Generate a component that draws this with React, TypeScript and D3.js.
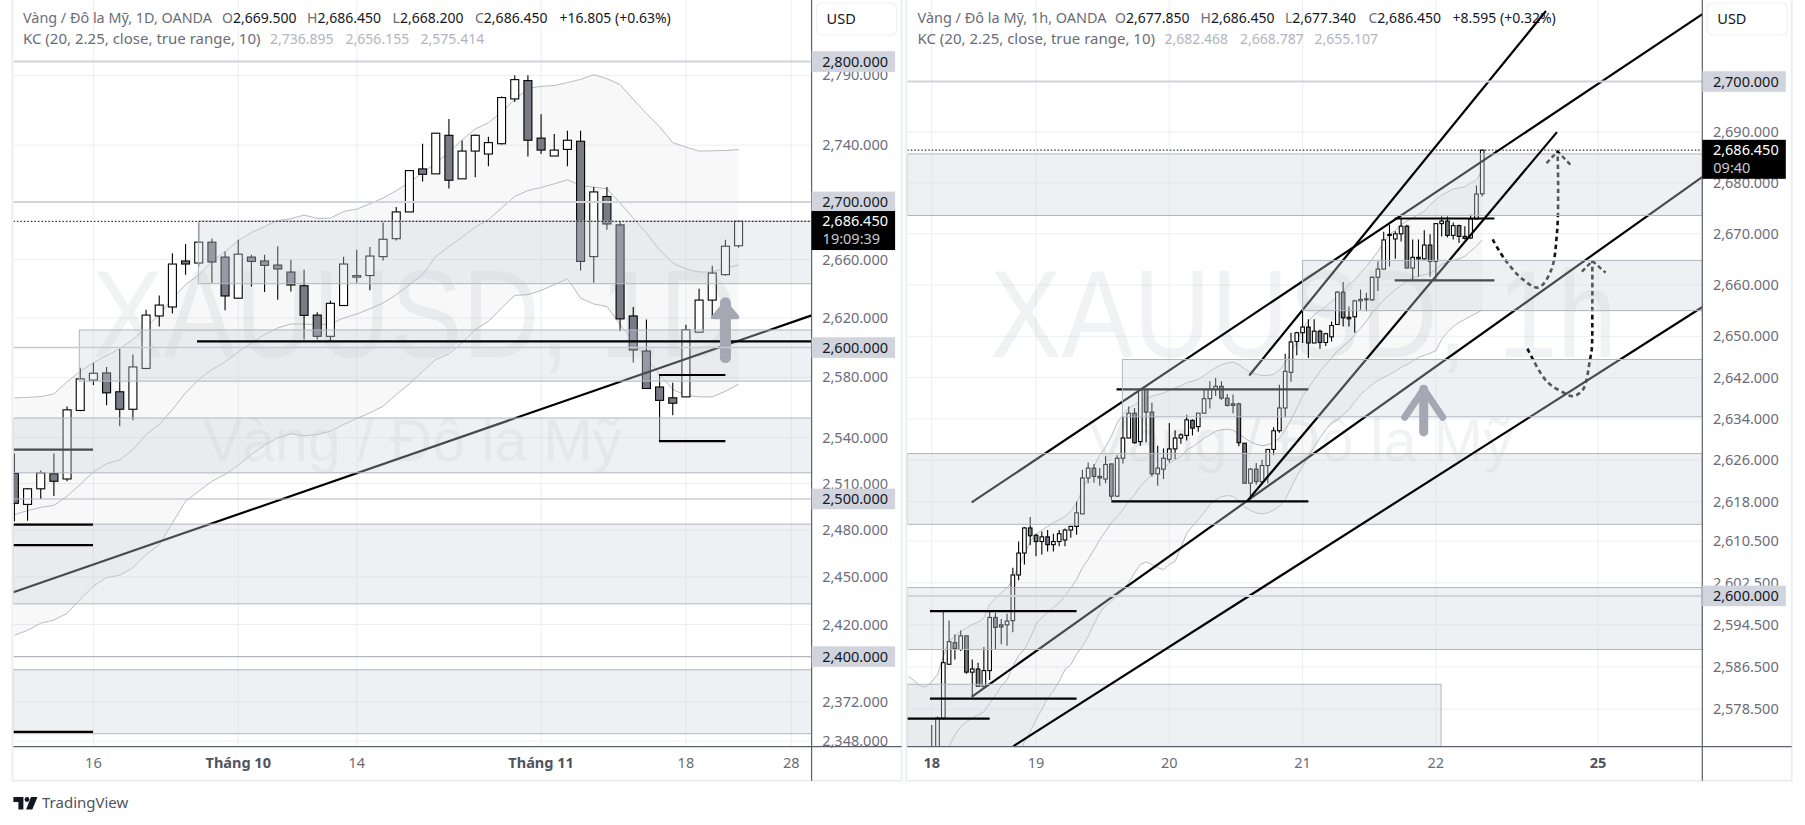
import React from "react";
import * as d3 from "d3";

// ---------- DAILY PANEL DATA ----------
const dailyOHLC = [
[2516.6,2529.6,2485.5,2497.2],[2496.5,2507.2,2486,2506.6],[2506.6,2518.5,2500,2517],[2516.4,2529.6,2502,2511.5],
[2513,2560.6,2511.5,2558.4],[2558,2586.4,2557.5,2579],[2578.2,2589.7,2575,2582.8],[2583,2587,2561.4,2569.7],
[2570.4,2599,2547.6,2558.8],[2558.8,2595.3,2551.5,2587],[2586,2625.6,2585.4,2622],[2621.4,2635.4,2614.3,2628.8],
[2627.5,2664.4,2623,2656.9],[2659,2670.7,2649.6,2656.9],[2657.6,2685.7,2655,2672],[2672,2674.5,2644,2658.3],
[2661.7,2665.5,2625.2,2635],[2633.5,2673.6,2633.5,2663.7],[2661.7,2663.3,2641.5,2658.7],[2659,2663.3,2637.7,2656],
[2656.2,2669.2,2632.4,2653.5],[2651.4,2659.8,2638,2642.5],[2642,2653,2605.4,2621.8],[2622,2624,2605.4,2607.6],
[2607.6,2631.7,2604,2630],[2628.5,2662,2628.5,2656.9],[2647.9,2666.7,2644,2648.9],[2649,2668.6,2638.9,2662.4],
[2662,2685.7,2659.4,2674],[2674.4,2696.4,2673.2,2693],[2693,2722.5,2693,2722],[2723.2,2741,2714.3,2719.4],
[2719.7,2748.5,2719.7,2748.5],[2747,2758.6,2709.4,2715.2],[2716.2,2743.3,2716.2,2735.8],[2735.8,2747.5,2717.3,2747],
[2733.7,2745.9,2725,2741.8],[2741,2774.7,2740.4,2774],[2773,2790,2770.8,2786.9],[2786.2,2790,2732,2743.5],
[2745,2762,2733.7,2736.5],[2732.3,2748,2732.3,2736.5],[2737,2750.2,2725,2743.5],[2742.8,2750.2,2652.5,2658.7],
[2662,2710.4,2644,2707],[2703.8,2710.4,2680.6,2684.6],[2684,2686.2,2611,2619.4],[2621.4,2627.5,2590,2598.4],
[2597.7,2619,2572.6,2572.6],[2573.6,2581.9,2538,2564.7],[2566.4,2576.4,2554.8,2562.8],[2567,2615.5,2567,2612],
[2610.4,2640,2610.4,2632.2],[2632.2,2655.7,2619.4,2650.7],[2649.6,2673.6,2648.9,2669.2],[2669.5,2686.45,2668.2,2686.45],
];
const dailyUpper = [2566.3,2566.7,2567.2,2569,2577,2584,2590,2594.6,2599.3,2605.4,2613.7,2622.3,2633.1,2642.7,2649.5,2658.7,2665.5,2673.1,2678.7,2682.9,2687,2688.3,2690.8,2688.5,2688.7,2693.3,2695,2698.7,2702.7,2707.8,2713.8,2720.4,2727.4,2734.8,2743.7,2751.5,2756,2763.7,2772.5,2780.5,2782.1,2782.6,2784.8,2787.1,2790.5,2787.6,2783.3,2772.7,2762.6,2753.1,2741.8,2738.6,2735.8,2736,2736.2,2736.9];
const dailyMiddle = [2489.9,2492.5,2494.6,2495.9,2501.8,2509.4,2517.7,2522.9,2525.5,2532.2,2542.1,2548.7,2558.6,2569.7,2578.6,2585.2,2590.4,2597.1,2603.1,2608.7,2613.3,2615.9,2615.9,2615.5,2615.9,2620,2622.7,2626.3,2630.2,2635.9,2642.7,2649.5,2662.1,2668.9,2675.5,2682.5,2687.6,2695.7,2703.8,2708,2710.1,2712.7,2715.5,2711.5,2710.4,2709.2,2699.2,2688.7,2678.3,2666.7,2657.6,2653.5,2651.4,2651.4,2654.2,2656.2];
const dailyLower = [2413.2,2416.4,2420.8,2422.8,2427,2435.8,2444.2,2449.5,2451.1,2455.8,2464.2,2470.5,2484.5,2498.5,2505,2511.5,2515.9,2522,2529,2535,2539.9,2542.6,2541.2,2542.1,2544.3,2548.7,2552.7,2556.4,2560.8,2568.6,2575.7,2584,2591.9,2595.7,2603.1,2612.1,2617.7,2626.8,2635.4,2635.9,2638.8,2642.7,2646.8,2633.6,2629.5,2627.9,2615.5,2604.1,2593,2581.9,2571.9,2568.1,2567,2567,2570.8,2575.4];
const dailyTicks = [2790,2740,2660,2620,2580,2540,2510,2480,2450,2420,2372,2348];
const dailyLevels = [2800,2700,2600,2500,2400];
// bar index, label, bold
const dailyDates: [number,string,boolean][] = [[6,"16",false],[17,"Tháng 10",true],[26,"14",false],[40,"Tháng 11",true],[51,"18",false],[59,"28",false]];
// left bar index (null = from edge), top price, bottom price
const dailyZones: [number|null,number,number][] = [[13.97,2686.6,2643.4],[4.93,2611.9,2577.5],[null,2553,2517],[null,2483.8,2433],[null,2391.8,2352.5]];
// x1, p1, x2, p2
const dailyUnderLines = [[-0.08,2440.3,60.55,2621.8],[-0.08,2532.2,5.97,2532.2]];
const dailyOverLines = [[13.87,2604.2,60.55,2604.2],[48.95,2581.6,54,2581.6],[48.95,2537.7,54,2537.7],[-0.08,2483.4,5.97,2483.4],[-0.08,2470.3,5.97,2470.3],[-0.08,2353.6,5.97,2353.6]];
const dailyArrow = { bar: 54, tip: 2632.4, headBase: 2620.6, tail: 2590.6 };

// ---------- HOURLY PANEL DATA ----------
const hourlyOHLC = [
[2570,2575.5,2569,2571],[2570,2577.1,2569,2576.8],[2576.8,2597.3,2576.5,2587.3],[2587,2595.3,2587,2591.3],
[2591.1,2592.7,2587.9,2590],[2589.8,2593.4,2589.5,2592.4],[2592.4,2592.4,2585.2,2585.5],[2585.5,2587.9,2580.9,2586.1],
[2586.1,2587.3,2582.7,2582.8],[2582.8,2590.3,2582.5,2585.8],[2585.8,2597.3,2584,2595.9],[2595.9,2596.8,2589.8,2594],
[2594.5,2595.6,2590.8,2594.1],[2594.5,2596.6,2590.5,2595.2],[2595.3,2605.4,2593.1,2604],[2604,2610.4,2603,2608.2],
[2608.2,2613.2,2606,2613],[2613,2615.1,2609.7,2611.5],[2611.6,2611.9,2607.6,2610.4],[2610.4,2612.3,2607.9,2611.3],
[2611.3,2612.6,2608.5,2609.8],[2609.8,2611.9,2608.5,2610.4],[2610.4,2612.6,2609.5,2611.9],[2610.7,2612.9,2609.5,2612.6],
[2612.6,2613.3,2611.1,2613.3],[2613.3,2618.1,2611.7,2615.9],[2615.7,2624.2,2615.7,2622.6],[2622.6,2625.6,2621.6,2624.5],
[2624.5,2625.3,2621.7,2622.9],[2622.9,2624.5,2621.1,2622.6],[2622.4,2626.8,2621.6,2625.2],[2625.3,2625.4,2618.4,2619.1],
[2619.1,2627,2619,2626.4],[2626.4,2634.4,2625.4,2630.3],[2630.3,2636.4,2630.3,2635.1],[2635.1,2636.1,2629.2,2629.4],
[2629.6,2639.7,2628.8,2639.7],[2639.7,2639.8,2629.5,2635.3],[2635.3,2637.1,2622.9,2623.4],[2623.4,2628.8,2621.1,2624.5],
[2624.3,2628.3,2622.4,2626.4],[2626.2,2633.2,2625.6,2628.2],[2628.2,2631.8,2626.2,2630.3],[2630.3,2631.2,2629.2,2630.9],
[2630.8,2634.8,2629.8,2633.8],[2633.7,2633.9,2630.8,2632.2],[2632.5,2635.1,2631.5,2635.1],[2635.1,2639.7,2635.1,2637.9],
[2637.9,2641.3,2636,2639.7],[2639.7,2641.9,2638.4,2640.3],[2640.3,2641.3,2637.7,2638],[2638,2638.8,2636.4,2636.6],
[2636.9,2638.7,2635.1,2636.6],[2636.9,2637.1,2628.7,2629.4],[2629.3,2629.3,2621.5,2621.6],[2621.6,2624.5,2618.4,2624.3],
[2624.3,2625.5,2621.3,2621.9],[2621.9,2626.1,2621.3,2625],[2625,2628.1,2621.6,2628.1],[2628.1,2632.4,2627,2631.7],
[2631.7,2640.6,2631.3,2636.1],[2636.1,2646.6,2634.3,2643.2],[2643,2650.7,2641.2,2648.9],[2649,2650.9,2646.3,2650.7],
[2650.7,2655.2,2648.7,2651.8],[2651.8,2653.3,2645.8,2648.7],[2648.7,2653.3,2648.7,2651],[2651,2651.3,2647.6,2648.8],
[2648.8,2650.7,2648.1,2650.5],[2649.9,2652.9,2649,2652.1],[2652.3,2658.8,2652.3,2658.6],[2658.6,2660.6,2651.9,2653.6],
[2653.7,2655.8,2651.9,2653.4],[2653.8,2657.1,2650.7,2656.9],[2656.9,2659.1,2655.2,2657.2],[2657.1,2658.5,2654.9,2657.3],
[2657.1,2661.7,2656.9,2661.5],[2661.5,2664.6,2658.8,2663.1],[2663.1,2670.4,2663,2668.8],[2669.7,2671.8,2663.6,2669.9],
[2669,2670.5,2665.1,2670],[2670,2673.1,2668.5,2671.5],[2671.5,2671.8,2663.3,2663.3],[2663.3,2668.9,2661,2665.4],
[2665.4,2668.9,2661.6,2665.1],[2665.1,2670.7,2665,2667.8],[2667.8,2669.9,2661.6,2664.6],[2664.6,2672,2661,2672],
[2672,2673.4,2669.5,2672.5],[2672.5,2673.4,2669.3,2669.7],[2669.7,2672.2,2668.9,2671.6],[2671.6,2671.8,2668.2,2669.5],
[2669.5,2671.5,2668.9,2669.1],[2669.2,2673.8,2669,2672.9],[2672.9,2679.5,2672.9,2677.8],[2677.85,2686.45,2677.34,2686.45],
];
const hourlyBandStart = -4;
const hourlyUpper = [2584.7,2583.9,2582.9,2582.7,2583.7,2585,2588.5,2591.4,2592.3,2593.3,2593.9,2594.6,2595,2595.8,2598.4,2599.6,2600.6,2601.5,2603.1,2605.7,2607.9,2610.4,2611.7,2612.6,2613.3,2614,2614.6,2615.2,2616.2,2617.8,2620.3,2622.6,2624.8,2627,2628.6,2630.6,2633.2,2634.8,2636.1,2636.7,2637.4,2637.9,2638.4,2638.7,2639,2639.5,2640,2640.4,2641,2641.3,2641.6,2642.4,2643.2,2643.9,2644.5,2644.8,2645,2644.5,2643.7,2643,2642.6,2642.4,2642.4,2642.6,2643.4,2644.8,2646.8,2649,2651.6,2652.9,2654.2,2655,2655.8,2656.8,2657.7,2658.8,2660.1,2661,2662.4,2663.6,2665,2666.6,2668.2,2669.9,2670.7,2671.8,2672.5,2673.1,2673.8,2674.4,2675.7,2676.7,2677.6,2678.2,2678.8,2679,2679.2,2680,2680.6,2682.5];
const hourlyMiddle = [2570,2570,2570,2570,2570,2570,2570,2571.5,2573.6,2575.2,2576.1,2576.8,2577.4,2578,2579.6,2581.1,2582.8,2584,2586.6,2588.7,2589.8,2592,2594.6,2595.9,2596.8,2597.8,2598.7,2600,2601.5,2603.1,2605.4,2607,2608.8,2610.8,2612.3,2614,2615.2,2616.5,2618.1,2619.4,2621,2622.2,2623.2,2623.8,2624.5,2625.4,2626.1,2626.7,2628,2628.6,2629.4,2630.3,2630.9,2631.6,2631.9,2632,2631.8,2631.1,2630.3,2629.6,2629.1,2628.8,2629,2629.4,2630.3,2631.9,2633.8,2636.1,2638.4,2640,2641.6,2643.2,2644.5,2645.8,2647.1,2648.1,2649,2650.3,2651.6,2652.9,2654.6,2655.8,2657.1,2658.1,2659.1,2659.9,2660.7,2661.4,2661.7,2662,2662.3,2663,2664,2664.5,2664.8,2665.1,2665.6,2666.6,2667.6,2668.8];
const hourlyLower = [2565,2565,2565,2565,2565,2565,2565,2565,2565,2565,2565,2565,2565,2565,2565,2565,2565,2565,2565,2570,2572.3,2574.2,2576.5,2578.4,2580.6,2581.9,2583.8,2586,2586.9,2588.9,2590.4,2592.3,2594.6,2596.8,2598.1,2599,2600,2601.2,2602.5,2604.4,2606,2606.5,2606,2605.4,2605,2606,2606.6,2609.2,2612,2613.3,2614.6,2615.9,2617.5,2618.4,2619,2619.2,2619.1,2618.1,2617,2616.4,2615.9,2615.7,2615.9,2616.4,2617.2,2618.4,2620.7,2622.9,2624.8,2626.7,2628.6,2630.3,2631.9,2633.2,2633.8,2634.8,2635.8,2637.3,2638.7,2639.7,2640.6,2641.4,2642,2642.6,2643.2,2644,2644.5,2645.2,2645.9,2646.3,2646.7,2647.2,2649.4,2650.8,2651.9,2652.7,2653.3,2653.9,2654.5,2655.1];
const hourlyTicks = [2690,2680,2670,2660,2650,2642,2634,2626,2618,2610.5,2602.5,2594.5,2586.5,2578.5];
const hourlyLevels = [2700,2600];
const hourlyDates: [number,string,boolean][] = [[0,"18",true],[18,"19",false],[41,"20",false],[64,"21",false],[87,"22",false],[115,"25",true]];
const hourlyZonesLow: [number|null,number,number,number?][] = [[null,2685.7,2673.6],[null,2627.3,2613.7],[null,2601.6,2589.8],[null,2583.2,2560,87.9]];
const hourlyZonesHigh: [number|null,number,number][] = [[64,2664.8,2655],[32.9,2645.5,2634.4]];
const hourlyUnderLines = [[6.9,2617.9,133,2713.4],[6.9,2580.8,133,2681.2],[31.9,2639.7,65,2639.7]];
const hourlyOverLines = [[54.8,2642.4,106,2714],[54.4,2618.1,107.9,2690],[14.1,2571.5,133,2655.7],[31,2618.1,65,2618.1],[-0.3,2597.1,25,2597.1],[-0.3,2580.5,25,2580.5],[-4.2,2576.7,10,2576.7],[79.9,2673,97.1,2673],[79.9,2660.9,97.1,2660.9]];
const hourlyCurveOne = [[96.8,2668.9],[98.9,2665],[102,2661.1],[104.7,2659.5],[106.9,2662.9],[107.9,2670.2],[108.1,2678.6],[108,2686.2]];
const hourlyHeadOne = [[106.1,2683.9],[108,2686.2],[110.2,2683.6]];
const hourlyCurveTwo = [[102.8,2647.6],[103.2,2646.7],[106.1,2641.3],[109,2639.1],[110.7,2638.4],[112.4,2639.7],[113.6,2645.5],[113.9,2647.5],[114,2656],[114,2664.7]];
const hourlyHeadTwo = [[112.2,2662.6],[114,2664.7],[116.3,2662.4]];
const hourlyArrow = { bar: 84.9, tip: 2640.3, headBase: 2634.3, tail: 2630.7 };

const font = "'Noto Sans', sans-serif";
const fmt = d3.format(",.3f");
const GRID = "#eceef2";
const AXIS = "#5d606b";
const BOX = "#d1d4dc";

function Header({ x, parts, kc, vals }: any) {
  return (
    <g fontFamily={font} fontSize={14}>
      <text x={x} y={23} fill="#6a6d78" textLength={189} lengthAdjust="spacingAndGlyphs">{parts[0]}</text>
      {parts.slice(1).map((p: any, i: number) => (
        <text key={i} x={x + p[0]} y={23} fill="#6a6d78">
          {p[1]}<tspan fill="#131722">{p[2]}</tspan>
        </text>
      ))}
      <text x={x} y={44} fill="#6a6d78" textLength={237.5} lengthAdjust="spacingAndGlyphs">{kc}</text>
      {vals.map((v: any, i: number) => (
        <text key={i} x={x + v[0]} y={44} fill="#b2b5be">{v[1]}</text>
      ))}
    </g>
  );
}

function Panel(p: any) {
  const { id, left, axisX, right, bottom, yDomain, xBase, xStep, ohlc, bandStart, upper, middle, lower,
    ticks, levels, dates, zonesLow, zonesHigh, underLines, overLines, arrow, barW, curves, heads,
    countdown, watermarks, levelStyle } = p;
  const x = d3.scaleLinear().domain([0, 1]).range([xBase, xBase + xStep]);
  const y = d3.scaleLog().domain(yDomain).range([bottom, 0]);
  const idx = upper.map((_: number, i: number) => i + bandStart);
  const line = (arr: number[]) =>
    d3.line<number>().x((_, i) => x(idx[i])).y(d => y(d))(arr) as string;
  const area = d3.area<number>().x((_, i) => x(idx[i])).y0((_, i) => y(lower[i])).y1(d => y(d))(upper) as string;
  const seg = (l: number[], k: any, w = 2.2) => (
    <line key={k} x1={x(l[0])} y1={y(l[1])} x2={x(l[2])} y2={y(l[3])} stroke="#000" strokeWidth={w} />
  );
  const zone = (z: any, k: any) => {
    const x0 = z[0] === null ? left : x(z[0]);
    const x1 = z[3] != null ? x(z[3]) : axisX;
    const y0 = y(z[1]);
    const y1 = Math.min(y(z[2]), bottom);
    return <rect key={k} x={x0} y={y0} width={x1 - x0} height={y1 - y0} fill="#d1d4dc" fillOpacity={0.35} stroke="#b2b5be" strokeWidth={1} />;
  };
  const cl = d3.line<number[]>().x(d => x(d[0])).y(d => y(d[1]));
  const curve = d3.line<number[]>().x(d => x(d[0])).y(d => y(d[1])).curve(d3.curveCatmullRom.alpha(0.5));
  const arrowEl = arrow && (() => {
    const ax = x(arrow.bar), t = y(arrow.tip), hb = y(arrow.headBase), tl = y(arrow.tail);
    const hw = arrow.half;
    return (
      <g stroke="#a5a7b3" strokeLinecap="round" strokeLinejoin="round" fill={arrow.solid ? "#a5a7b3" : "none"}>
        <line x1={ax} y1={t + 3} x2={ax} y2={tl - 4} strokeWidth={arrow.w} />
        <path d={`M${ax - hw} ${hb}L${ax} ${t + 3}L${ax + hw} ${hb}${arrow.solid ? "Z" : ""}`} strokeWidth={arrow.solid ? 4 : arrow.w - 2} />
      </g>
    );
  })();
  return (
    <g>
      <defs>
        <clipPath id={id}><rect x={left} y={0} width={axisX - left} height={bottom} /></clipPath>
      </defs>
      <g clipPath={`url(#${id})`}>
        {ticks.map((t: number) => <line key={t} x1={left} x2={axisX} y1={y(t)} y2={y(t)} stroke={GRID} />)}
        {dates.map((d: any) => <line key={d[1]} x1={x(d[0])} x2={x(d[0])} y1={0} y2={bottom} stroke={GRID} />)}
        <g fontFamily="'Liberation Sans', sans-serif" fill="#787b86" fillOpacity={0.1}>
          <text x={watermarks.bigX} y={357} fontSize={125} textLength={watermarks.bigLen} lengthAdjust="spacingAndGlyphs">{watermarks.big}</text>
          <text x={watermarks.smallX} y={461} fontSize={60} textLength={watermarks.smallLen} lengthAdjust="spacingAndGlyphs">Vàng / Đô la Mỹ</text>
        </g>
        <path d={area} fill="#787b86" fillOpacity={0.05} />
        <g fill="none" stroke="#b8bac2" strokeWidth={1}>
          <path d={line(upper)} /><path d={line(middle)} /><path d={line(lower)} />
        </g>
        {ohlc.map((c: number[], i: number) => {
          const [o, h, l, cl2] = c;
          const up = cl2 >= o;
          const top = y(Math.max(o, cl2)), bot = y(Math.min(o, cl2));
          return (
            <g key={i}>
              <line x1={x(i)} x2={x(i)} y1={y(h)} y2={y(l)} stroke="#000" strokeWidth={1.1} />
              <rect x={x(i) - barW / 2} y={top} width={barW} height={Math.max(bot - top, 1)}
                fill={up ? "#fff" : "#787b86"} stroke="#000" strokeWidth={1.1} />
            </g>
          );
        })}
        {underLines.map((l: number[], i: number) => seg(l, "u" + i))}
        {curves.map((c: number[][], i: number) => <path key={i} d={curve(c) as string} fill="none" stroke="#111" strokeWidth={2.6} strokeDasharray="4.5 3.5" />)}
        {heads.map((c: number[][], i: number) => <path key={i} d={cl(c) as string} fill="none" stroke="#111" strokeWidth={2.4} strokeDasharray="4.5 3" />)}
        {zonesLow.map((z: any, i: number) => zone(z, "zl" + i))}
        {overLines.map((l: number[], i: number) => seg(l, "o" + i))}
        {zonesHigh.map((z: any, i: number) => zone(z, "zh" + i))}
        {arrowEl}
        {levels.map((t: number, i: number) => (
          <line key={t} x1={left} x2={axisX} y1={y(t)} y2={y(t)} stroke={levelStyle[i][0]} strokeWidth={levelStyle[i][1]} />
        ))}
        <line x1={left} x2={axisX} y1={y(2686.45)} y2={y(2686.45)} stroke="#000" strokeWidth={1} strokeDasharray="1.5 2" />
      </g>
      {/* frame */}
      <rect x={left - 1} y={-3} width={right - left + 1} height={bottom + 37} fill="none" stroke="#eceef1" strokeWidth={2} />
      <line x1={left} x2={right} y1={bottom} y2={bottom} stroke={AXIS} strokeWidth={1.2} />
      <line x1={axisX} x2={axisX} y1={0} y2={bottom + 34} stroke={AXIS} strokeWidth={1.2} />
      {/* axis */}
      <rect x={axisX + 5} y={3} width={80} height={32} rx={5} fill="#fff" stroke="#eef0f3" strokeWidth={1.2} />
      <g fontFamily={font} fontSize={14.5}>
        <text x={axisX + 15} y={24} fill="#131722">USD</text>
        {ticks.map((t: number) => (
          <text key={t} x={axisX + 43.5} y={y(t) + 5} textAnchor="middle" fill="#6a6d78">{fmt(t)}</text>
        ))}
        {levels.map((t: number) => (
          <g key={t}>
            <rect x={axisX} y={y(t) - 10.3} width={83.5} height={20.6} fill={BOX} />
            <text x={axisX + 43.5} y={y(t) + 5} textAnchor="middle" fill="#131722">{fmt(t)}</text>
          </g>
        ))}
        <rect x={axisX} y={y(2686.45) - 10.3} width={83.5} height={39} fill="#000" />
        <text x={axisX + 43.5} y={y(2686.45) + 5} textAnchor="middle" fill="#fff">{fmt(2686.45)}</text>
        <text x={axisX + 11} y={y(2686.45) + 23} fill="#c8cad0">{countdown}</text>
        {dates.map((d: any) => (
          <text key={d[1]} x={x(d[0])} y={768} textAnchor="middle" fill={d[2] ? "#50535e" : "#6a6d78"} fontWeight={d[2] ? 700 : 400}>{d[1]}</text>
        ))}
      </g>
    </g>
  );
}

export default function App() {
  return (
    <svg width={1805} height={825} style={{ position: "absolute", left: 0, top: 0, display: "block", background: "#fff" }}>
      <Panel id="pd" left={13.4} axisX={811.6} right={901.6} bottom={746.7} yDomain={[2344.6, 2845]}
        xBase={14.4} xStep={13.167} ohlc={dailyOHLC} bandStart={0} upper={dailyUpper} middle={dailyMiddle} lower={dailyLower}
        ticks={dailyTicks} levels={dailyLevels} dates={dailyDates} zonesLow={dailyZones} zonesHigh={[]}
        underLines={dailyUnderLines} overLines={dailyOverLines} arrow={{ ...dailyArrow, half: 12, w: 11, solid: true }} barW={8} curves={[]} heads={[]}
        countdown="19:09:39"
        levelStyle={[["#d1d4dc", 2], ["#d1d4dc", 2], ["#c8cad2", 1.5], ["#b2b5be", 1.2], ["#b2b5be", 1.2]]}
        watermarks={{ big: "XAUUSD, 1D", bigX: 92, bigLen: 645, smallX: 203, smallLen: 419 }} />
      <Panel id="ph" left={907.3} axisX={1702.3} right={1791.7} bottom={746.7} yDomain={[2571.4, 2716.2]}
        xBase={931.7} xStep={5.795} ohlc={hourlyOHLC} bandStart={hourlyBandStart} upper={hourlyUpper} middle={hourlyMiddle} lower={hourlyLower}
        ticks={hourlyTicks} levels={hourlyLevels} dates={hourlyDates} zonesLow={hourlyZonesLow} zonesHigh={hourlyZonesHigh}
        underLines={hourlyUnderLines} overLines={hourlyOverLines} arrow={{ ...hourlyArrow, half: 19, w: 9 }} barW={3.6}
        curves={[hourlyCurveOne, hourlyCurveTwo]} heads={[hourlyHeadOne, hourlyHeadTwo]}
        countdown="09:40"
        levelStyle={[["#d1d4dc", 2], ["#d1d4dc", 2]]}
        watermarks={{ big: "XAUUSD, 1h", bigX: 990, bigLen: 627, smallX: 1088, smallLen: 425 }} />
      <Header x={23} parts={["Vàng / Đô la Mỹ, 1D, OANDA", [199, "O", "2,669.500"], [284, "H", "2,686.450"], [369.6, "L", "2,668.200"], [452, "C", "2,686.450"], [536.5, "", "+16.805 (+0.63%)"]]}
        kc="KC (20, 2.25, close, true range, 10)" vals={[[247, "2,736.895"], [322.6, "2,656.155"], [397.6, "2,575.414"]]} />
      <Header x={917.5} parts={["Vàng / Đô la Mỹ, 1h, OANDA", [197.5, "O", "2,677.850"], [283, "H", "2,686.450"], [367.5, "L", "2,677.340"], [451, "C", "2,686.450"], [535, "", "+8.595 (+0.32%)"]]}
        kc="KC (20, 2.25, close, true range, 10)" vals={[[247, "2,682.468"], [322.6, "2,668.787"], [397, "2,655.107"]]} />
      <g fill="#131722">
        <path d="M13.4 797h10v12.4h-5v-7.4h-5z" />
        <circle cx="27" cy="799.5" r="2.4" />
        <path d="M31 797h6.5l-5.2 12.4h-6.2z" />
      </g>
      <text x={42} y={808} fontFamily={font} fontSize={15} fill="#50535e">TradingView</text>
    </svg>
  );
}
